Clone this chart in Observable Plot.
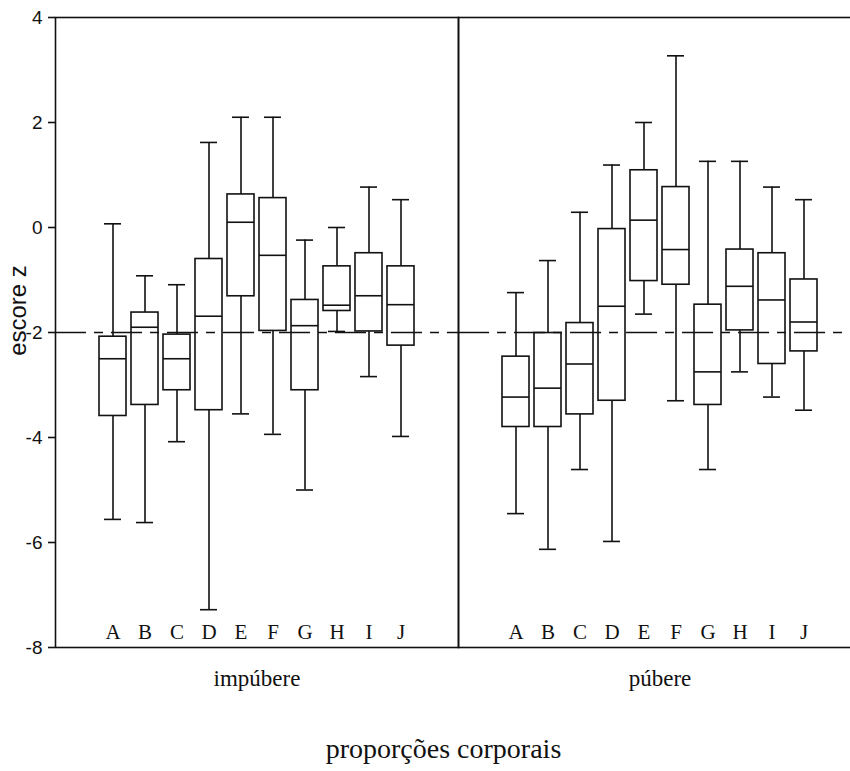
<!DOCTYPE html>
<html>
<head>
<meta charset="utf-8">
<script src="https://cdn.jsdelivr.net/npm/d3@7"></script>
<script src="https://cdn.jsdelivr.net/npm/@observablehq/plot@0.6"></script>
<style>
  html, body { margin: 0; padding: 0; background: #fff; overflow: hidden; }
  #chart { width: 850px; height: 771px; overflow: hidden; }
  #chart svg { max-width: none !important; width: 861px !important; height: 771px !important; }
</style>
</head>
<body>
<div id="chart"></div>
<script>
// ---- data ----
const categories = ["A", "B", "C", "D", "E", "F", "G", "H", "I", "J"];
const groups = ["impúbere", "púbere"];
const yTicks = [4, 2, 0, -2, -4, -6, -8];
const referenceLine = [-2];
const yLabel = "escore z";
const xTitle = "proporções corporais";

// impúbere
const impLow    = [-5.56, -5.62, -4.08, -7.28, -3.55, -3.94, -5.00, -1.98, -2.84, -3.98];
const impQ1     = [-3.59, -3.38, -3.10, -3.48, -1.31, -1.97, -3.10, -1.59, -1.98, -2.25];
const impMedian = [-2.50, -1.90, -2.50, -1.69,  0.10, -0.53, -1.87, -1.48, -1.30, -1.47];
const impQ3     = [-2.08, -1.62, -2.04, -0.60,  0.63,  0.56, -1.38, -0.74, -0.49, -0.74];
const impHigh   = [ 0.07, -0.92, -1.09,  1.62,  2.10,  2.10, -0.24,  0.00,  0.77,  0.53];

// púbere
const pubLow    = [-5.45, -6.13, -4.61, -5.98, -1.65, -3.30, -4.61, -2.75, -3.23, -3.48];
const pubQ1     = [-3.80, -3.80, -3.56, -3.30, -1.02, -1.09, -3.38, -1.96, -2.60, -2.36];
const pubMedian = [-3.23, -3.06, -2.60, -1.50,  0.14, -0.42, -2.75, -1.12, -1.38, -1.80];
const pubQ3     = [-2.46, -2.01, -1.82, -0.03,  1.09,  0.77, -1.47, -0.42, -0.49, -0.99];
const pubHigh   = [-1.24, -0.63,  0.29,  1.19,  2.00,  3.27,  1.26,  1.26,  0.77,  0.53];

// ---- table built from arrays ----
const rows = [];
categories.forEach((c, i) => {
  rows.push({g: groups[0], cat: c, lo: impLow[i], q1: impQ1[i], med: impMedian[i], q3: impQ3[i], hi: impHigh[i]});
});
categories.forEach((c, i) => {
  rows.push({g: groups[1], cat: c, lo: pubLow[i], q1: pubQ1[i], med: pubMedian[i], q3: pubQ3[i], hi: pubHigh[i]});
});

const ink = "#111";
const sw = 1.6;

const plot = Plot.plot({
  width: 861,
  height: 771,
  marginTop: 17,
  marginLeft: 55,
  marginRight: 0,
  marginBottom: 124,
  style: {background: "#fff", color: ink, fontFamily: "Liberation Sans", maxWidth: "none"},
  fx: {domain: groups, padding: 0},
  x: {type: "band", domain: categories, paddingInner: 0.15, paddingOuter: 1.22},
  y: {domain: [-8, 4]},
  marks: [
    Plot.frame({stroke: ink, strokeWidth: sw}),
    // whiskers
    Plot.ruleX(rows, {fx: "g", x: "cat", y1: "lo", y2: "q1", stroke: ink, strokeWidth: sw}),
    Plot.ruleX(rows, {fx: "g", x: "cat", y1: "q3", y2: "hi", stroke: ink, strokeWidth: sw}),
    // caps
    Plot.tickY(rows, {fx: "g", x: "cat", y: "lo", stroke: ink, strokeWidth: sw, insetLeft: 5, insetRight: 5}),
    Plot.tickY(rows, {fx: "g", x: "cat", y: "hi", stroke: ink, strokeWidth: sw, insetLeft: 5, insetRight: 5}),
    // boxes
    Plot.barY(rows, {fx: "g", x: "cat", y1: "q1", y2: "q3", fill: "none", stroke: ink, strokeWidth: sw}),
    // medians
    Plot.tickY(rows, {fx: "g", x: "cat", y: "med", stroke: ink, strokeWidth: sw}),
    // reference line
    Plot.ruleY(referenceLine, {stroke: ink, strokeWidth: 1.4, strokeDasharray: "31,8,9,8"}),
    // axes
    Plot.axisY({ticks: yTicks, tickSize: 7, tickPadding: 6, tickFormat: d => String(d),
      fontSize: 19, fontFamily: "Liberation Sans", label: null, stroke: ink, strokeWidth: sw}),
    Plot.axisX({anchor: "bottom", tickSize: 0, tickPadding: 0, dy: -23, label: null,
      fontSize: 21, fontFamily: "Liberation Serif"}),
    Plot.axisFx({anchor: "bottom", tickSize: 0, tickPadding: 22, label: null,
      fontSize: 23, fontFamily: "Liberation Serif"}),
    // y label
    Plot.text([yLabel], {fx: () => groups[0], text: d => d, frameAnchor: "left", textAnchor: "middle",
      rotate: -90, dx: -37, dy: -22, fontSize: 24, fontFamily: "Liberation Sans", fill: ink}),
    // x title
    Plot.text([xTitle], {fx: () => groups[0], text: d => d, frameAnchor: "bottom-right",
      textAnchor: "middle", dx: -15, dy: 110, fontSize: 28, fontFamily: "Liberation Serif", fill: ink})
  ]
});
document.getElementById("chart").appendChild(plot);
</script>
</body>
</html>
